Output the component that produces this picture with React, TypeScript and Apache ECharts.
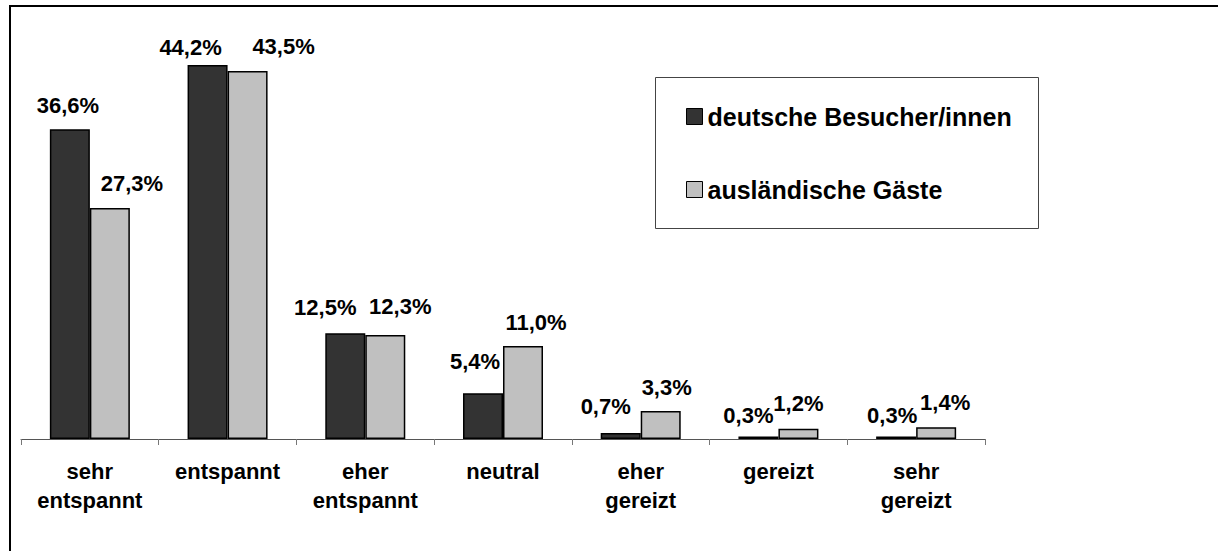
import React, { useEffect, useRef } from "react";
import * as echarts from "echarts";

const categories = [
  "sehr\nentspannt",
  "entspannt",
  "eher\nentspannt",
  "neutral",
  "eher\ngereizt",
  "gereizt",
  "sehr\ngereizt",
];
const seriesNames = ["deutsche Besucher/innen", "ausländische Gäste"];
const deutscheValues = [36.6, 44.2, 12.5, 5.4, 0.7, 0.3, 0.3];
const auslaendischeValues = [27.3, 43.5, 12.3, 11.0, 3.3, 1.2, 1.4];

// layout: label offsets [dx, dy] relative to default top position
const deutscheLabelOffsets = [
  [-2, -14], [-17, -8], [-20, -16], [-8, -22], [-15, -17], [-10, -11], [-4, -11],
];
const auslaendischeLabelOffsets = [
  [22, -15], [36, -14], [15, -18], [13, -13], [6, -14], [0, -15], [9, -15],
];

const FONT = "Arial, 'Liberation Sans', Helvetica, sans-serif";

const fmt = (v: number) => v.toFixed(1).replace(".", ",") + "%";

export default function App() {
  const ref = useRef<HTMLDivElement>(null);
  useEffect(() => {
    if (!ref.current) return;
    const chart = echarts.init(ref.current, null, { renderer: "svg" });
    const labelBase = {
      show: true,
      position: "top",
      distance: 0,
      fontSize: 22,
      fontWeight: "bold",
      fontFamily: FONT,
      color: "#000",
      lineHeight: 20,
      formatter: (p: any) => fmt(p.value),
    };
    const mk = (vals: number[], offs: number[][]) =>
      vals.map((v, i) => ({ value: v, label: { offset: offs[i] } }));
    chart.setOption({
      animation: false,
      backgroundColor: "#fff",
      grid: { left: 21, right: 233, top: 16, bottom: 112, containLabel: false },
      legend: {
        orient: "vertical",
        left: 686,
        top: 104,
        padding: 0,
        itemWidth: 16,
        itemHeight: 16,
        itemGap: 48,
        itemStyle: { borderColor: "#000", borderWidth: 1 },
        icon: "rect",
        textStyle: {
          fontSize: 25,
          fontWeight: "bold",
          fontFamily: FONT,
          color: "#000",
          lineHeight: 24,
        },
        itemTextGap: 6,
        data: seriesNames,
      },
      xAxis: {
        type: "category",
        data: categories,
        boundaryGap: true,
        axisLine: { lineStyle: { color: "#555", width: 1 } },
        axisTick: { show: true, length: 6, lineStyle: { color: "#777" } },
        axisLabel: {
          margin: 18,
          fontSize: 22,
          fontWeight: "bold",
          fontFamily: FONT,
          color: "#000",
          lineHeight: 29,
          interval: 0,
        },
      },
      yAxis: {
        type: "value",
        min: 0,
        max: 50,
        show: false,
        splitLine: { show: false },
      },
      series: [
        {
          name: seriesNames[0],
          type: "bar",
          barWidth: 40,
          barGap: "0%",
          itemStyle: { color: "#333333", borderColor: "#000", borderWidth: 1.5 },
          label: labelBase,
          data: mk(deutscheValues, deutscheLabelOffsets),
        },
        {
          name: seriesNames[1],
          type: "bar",
          barWidth: 40,
          barGap: "0%",
          itemStyle: { color: "#c0c0c0", borderColor: "#000", borderWidth: 1.5 },
          label: labelBase,
          data: mk(auslaendischeValues, auslaendischeLabelOffsets),
        },
      ],
      graphic: [
        {
          type: "rect",
          shape: { x: 10, y: 6, width: 1400, height: 700 },
          style: { fill: "none", stroke: "#000", lineWidth: 2 },
          silent: true,
        },
        {
          type: "rect",
          shape: { x: 655.5, y: 77.5, width: 383, height: 151 },
          style: { fill: "none", stroke: "#444", lineWidth: 1 },
          silent: true,
        },
      ],
    });
    return () => chart.dispose();
  }, []);
  return (
    <div
      ref={ref}
      style={{ position: "absolute", left: 0, top: 0, width: 1218, height: 551 }}
    />
  );
}
